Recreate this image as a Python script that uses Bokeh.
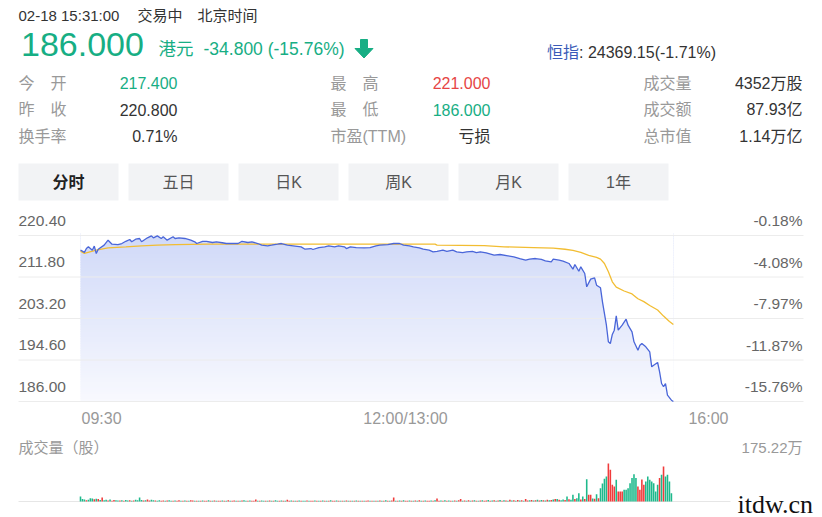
import numpy as np
from bokeh.plotting import figure
from bokeh.layouts import column
from bokeh.models import Range1d
from bokeh.core.properties import value
from bokeh.embed import file_html
from bokeh.resources import INLINE

# ---------------- data ----------------
# minutes after 09:30 (continuous trading minutes, lunch removed) and price
price_min = [0, 2, 3, 4, 6, 7, 8, 9, 12, 14,
             16, 19, 21, 23, 25, 26, 28, 30, 31, 34,
             36, 37, 39, 41, 42, 44, 47, 48, 50, 53,
             56, 58, 59, 62, 64, 67, 69, 72, 74, 77,
             80, 82, 85, 87, 90, 92, 95, 97, 100, 102,
             105, 108, 112, 114, 117, 118, 121, 124, 126, 129,
             131, 134, 135, 137, 140, 144, 147, 150, 152, 156,
             159, 162, 164, 167, 169, 172, 174, 177, 179, 181,
             184, 186, 189, 191, 194, 196, 199, 201, 203, 206,
             210, 213, 217, 220, 223, 226, 228, 231, 234, 236,
             239, 240, 243, 245, 248, 250, 251, 253, 254, 256,
             257, 259, 261, 262, 264, 265, 267, 268, 269, 270,
             271, 272, 273, 275, 277, 278, 280, 281, 283, 284,
             285, 287, 289, 290, 291, 293, 294, 295, 296, 297,
             298, 300, 301]
price_val = [217.40, 216.90, 217.70, 218.05, 217.35, 218.20, 216.67, 217.56, 218.40, 219.43,
             218.60, 218.50, 218.74, 219.20, 219.57, 219.10, 219.64, 219.78, 219.10, 219.92,
             220.33, 219.92, 220.33, 219.78, 220.13, 219.43, 220.13, 219.78, 219.92, 219.78,
             219.43, 219.10, 218.74, 219.20, 219.20, 218.95, 219.10, 218.90, 218.74, 218.74,
             218.74, 219.20, 218.95, 219.10, 218.74, 218.40, 218.27, 218.40, 218.60, 218.74,
             218.40, 218.27, 218.05, 217.56, 217.70, 217.50, 217.90, 218.05, 218.27, 218.05,
             218.27, 218.05, 217.70, 218.05, 217.90, 217.85, 217.90, 218.27, 218.40, 218.50,
             218.74, 218.74, 218.40, 218.27, 218.05, 217.85, 217.56, 217.35, 217.02, 217.10,
             217.35, 217.10, 217.35, 217.02, 216.87, 217.02, 217.10, 216.87, 217.02, 216.80,
             216.32, 216.46, 216.19, 215.99, 215.63, 215.28, 215.49, 215.63, 215.43, 215.16,
             214.95, 215.49, 215.28, 215.08, 214.60, 213.42, 214.39, 213.00, 213.91, 212.53,
             209.77, 211.35, 211.63, 210.10, 209.56, 206.66, 201.81, 198.37, 198.02, 199.89,
             200.78, 203.76, 200.78, 201.81, 203.06, 201.81, 200.44, 198.37, 196.63, 197.67,
             198.02, 197.33, 196.30, 193.19, 193.52, 194.08, 192.16, 189.73, 189.05, 189.73,
             187.31, 186.27, 186.00]

avg_min = [0, 2, 8, 14, 23, 31, 39, 48, 65, 180,
           181, 205, 215, 230, 240, 246, 250, 254, 258, 262,
           264, 266, 268, 270, 272, 276, 280, 283, 286, 289,
           293, 296, 299, 301]
avg_val = [217.15, 216.70, 217.35, 217.85, 218.05, 218.27, 218.40, 218.50, 218.60, 218.60,
           218.40, 218.30, 218.05, 217.90, 217.80, 217.55, 217.30, 216.90, 216.30, 215.85,
           215.50, 214.60, 212.90, 210.80, 209.70, 208.90, 208.30, 207.30, 206.70, 205.90,
           204.95, 203.70, 202.60, 201.96]

# volume per minute (万股)
vol_wan = [23, 12, 9, 6, 8, 15, 14, 10, 13, 12, 7, 19, 6, 8, 5, 9, 4, 7, 6, 5,
           5, 6, 4, 7, 5, 6, 4, 5, 8, 6, 18, 7, 5, 6, 9, 5, 8, 6, 5, 4,
           6, 4, 5, 3, 5, 6, 4, 3, 5, 4, 6, 3, 4, 5, 3, 4, 6, 5, 3, 4,
           4, 3, 5, 4, 3, 6, 4, 3, 5, 4, 3, 4, 5, 3, 4, 6, 3, 4, 5, 3,
           4, 3, 5, 6, 3, 4, 5, 3, 4, 9, 3, 4, 5, 3, 4, 3, 5, 4, 3, 6,
           3, 4, 5, 3, 4, 8, 3, 5, 4, 3, 4, 5, 3, 4, 3, 5, 4, 3, 4, 5,
           3, 4, 3, 5, 4, 3, 4, 6, 3, 4, 5, 3, 4, 3, 4, 5, 3, 4, 3, 4,
           5, 3, 4, 3, 4, 3, 5, 4, 3, 4, 3, 4, 5, 3, 4, 6, 4, 3, 5, 19,
           4, 3, 5, 4, 6, 3, 4, 5, 3, 4, 5, 4, 6, 3, 4, 5, 4, 3, 5, 4,
           6, 14, 4, 5, 3, 6, 4, 5, 4, 3, 5, 4, 6, 11, 4, 5, 3, 6, 4, 5,
           6, 4, 3, 5, 6, 4, 5, 7, 4, 5, 6, 4, 5, 7, 4, 6, 5, 4, 8, 5,
           6, 4, 7, 5, 6, 4, 12, 5, 6, 7, 5, 6, 8, 5, 7, 6, 5, 8, 6, 7,
           9, 11, 11, 8, 6, 9, 7, 23, 10, 8, 31, 12, 15, 38, 9, 23, 12, 103, 31, 31,
           14, 13, 34, 15, 61, 83, 105, 115, 175.22, 146, 77, 69, 100, 46, 46, 46, 54, 54, 61, 84,
           108, 126, 108, 69, 54, 101, 77, 92, 115, 100, 92, 84, 46, 77, 108, 123, 161, 115, 123, 92, 38]
# g = up (green), r = down (red)
vol_dir = ("gggrgggrgrgrggrgrrgg" "rgrggrgrggggrgrrggrg" "grrgrggrgrrgrgrgrrgr"
           "grgrrgrgrgrrgrgrgrrg" "rgrggrgrrrgrggrgrgrg" "grgrgrrgrgrgrggrgrrg"
           "rgrgrgrgrrgrgrgrgrgr" "grgrgrrgrgrgrgrgrgrr" "grgrgrrgrgrgrgrgrrgr"
           "grrgrgrgrgrgrrgrgrgr" "grgrgrrgrgrgrgrgrgrg" "rgrgrgrrgrgrgrgrgrgr"
           "grgrggrgrggrggrgrgrr" "grgrggggrrrrgrrrgggg" "gggrrrrgggggggrgrgggg")

price_ticks = [220.40, 211.80, 203.20, 194.60, 186.00]
pct_labels = ["-0.18%", "-4.08%", "-7.97%", "-11.87%", "-15.76%"]
time_labels = ["09:30", "12:00/13:00", "16:00"]
time_pos = [0, 165, 330]
session_minutes = 330
vol_max_label = "175.22万"
vol_max = 175.22

stat_labels = [["今　开", "昨　收", "换手率"], ["最　高", "最　低", "市盈(TTM)"], ["成交量", "成交额", "总市值"]]
stat_values = [["217.400", "220.800", "0.71%"], ["221.000", "186.000", "亏损"], ["4352万股", "87.93亿", "1.14万亿"]]
stat_kind = [["down", "flat", "flat"], ["up", "down", "flat"], ["flat", "flat", "flat"]]
tabs = ["分时", "五日", "日K", "周K", "月K", "1年"]

# ---------------- style / layout ----------------
W = 822
FONT = "'Liberation Sans', 'Noto Sans CJK SC', sans-serif"
GREEN = "#17ae84"
RED = "#e64545"
DARK = "#333333"
GRAY = "#999999"
AXIS_GRAY = "#666666"
BLUE_LINE = "#4a66d9"
YELLOW = "#f2bd32"
GRID = "#ececec"
VGREEN = "#1fb98c"
VRED = "#f03c3c"
KIND_COLOR = {"up": RED, "down": GREEN, "flat": DARK}


def mkfig(h, xr, yr):
    p = figure(width=W, height=h, x_range=xr, y_range=yr, output_backend="svg",
               toolbar_location=None, x_axis_location=None, y_axis_location=None,
               min_border=0)
    p.grid.visible = False
    p.outline_line_color = None
    p.background_fill_color = "white"
    p.border_fill_color = "white"
    return p


def txt(p, x, y, s, size="16px", color=DARK, align="left", baseline="middle",
        font=FONT, style="normal", x_off=0, y_off=0):
    p.text(x=[x], y=[y], text=[s], text_font=value(font), text_font_size=size,
           text_color=color, text_align=align, text_baseline=baseline,
           text_font_style=style, x_offset=x_off, y_offset=y_off)


# ---------- header ----------
hdr = mkfig(205, Range1d(0, W), Range1d(205, 0))
txt(hdr, 18, 15, "02-18 15:31:00", size="15px")
txt(hdr, 137, 15, "交易中", size="15px")
txt(hdr, 197, 15, "北京时间", size="15px")
txt(hdr, 20.5, 44, "186.000", size="34px", color=GREEN)
txt(hdr, 158, 48.5, "港元", size="17.5px", color=GREEN)
txt(hdr, 203, 48.5, "-34.800 (-15.76%)", size="17.5px", color=GREEN)
hdr.patch(x=[360, 367, 367, 372.5, 363.5, 354.5, 360],
          y=[39, 39, 48, 48, 57.5, 48, 48], fill_color=GREEN, line_color=GREEN)
txt(hdr, 546.5, 51.5, "恒指", size="16px", color="#3a5bb8")
txt(hdr, 578.5, 51.5, ": 24369.15(-1.71%)", size="16px", color=DARK)

row_y = [82.5, 109, 136]
lab_x = [18, 330, 643]
val_x = [177, 490, 802]
for c in range(3):
    for r in range(3):
        txt(hdr, lab_x[c], row_y[r], stat_labels[c][r], size="16px", color=GRAY)
        txt(hdr, val_x[c], row_y[r], stat_values[c][r], size="16px",
            color=KIND_COLOR[stat_kind[c][r]], align="right")

bl = [18 + 110 * i for i in range(len(tabs))]
hdr.quad(left=bl, right=[b + 100 for b in bl], top=163, bottom=200,
         fill_color="#f2f3f5", line_color=None)
for i, t in enumerate(tabs):
    txt(hdr, bl[i] + 50, 182, t, size="16px",
        color="#222222" if i == 0 else "#555555", align="center",
        style="bold" if i == 0 else "normal")

# ---------- price chart ----------
X0 = 80.0
PX_MIN = 650.0 / session_minutes


def px2m(px):
    return (px - X0) / PX_MIN


GRID_TOP_PX, GRID_BOT_PX = 235.0, 401.0
PX_PRICE = (GRID_BOT_PX - GRID_TOP_PX) / (price_ticks[0] - price_ticks[-1])


def py2p(py):
    return price_ticks[0] - (py - GRID_TOP_PX) / PX_PRICE


pf = mkfig(225, Range1d(px2m(0), px2m(W)), Range1d(py2p(430), py2p(205)))

pm = np.array(price_min, dtype=float)
pv = np.array(price_val, dtype=float)

# vertical gradient under the price line
lo_p, hi_p = price_ticks[-1], 220.6
nb = 70
edges = np.linspace(lo_p, hi_p, nb + 1)
top_c = np.array([208, 217, 248])
bot_c = np.array([248, 249, 254])
cols = []
for k in range(nb):
    t = ((edges[k] + edges[k + 1]) / 2 - lo_p) / (hi_p - lo_p)
    c = bot_c + t * (top_c - bot_c)
    cols.append("#%02x%02x%02x" % tuple(int(round(v)) for v in c))
step = edges[1] - edges[0]
pf.quad(left=pm[0], right=pm[-1], bottom=edges[:-1], top=edges[1:] + step * 0.6,
        fill_color=cols, line_color=None)
# clear everything above the price line
pf.varea(x=pm, y1=pv, y2=py2p(200), fill_color="white")

# grid lines
pf.segment(x0=px2m(18), x1=px2m(803), y0=price_ticks, y1=price_ticks,
           line_color=GRID, line_width=1)

pf.line(avg_min, avg_val, line_color=YELLOW, line_width=1.3)
pf.line(price_min, price_val, line_color=BLUE_LINE, line_width=1.3)

for v, pl in zip(price_ticks, pct_labels):
    txt(pf, px2m(18), v, "%.2f" % v, size="15.5px", color=AXIS_GRAY, y_off=-14.6)
    txt(pf, px2m(802), v, pl, size="15.5px", color=AXIS_GRAY, align="right", y_off=-14.6)

aligns = ["left", "center", "right"]
offs = [1, 0, -2]
for tp, tl, al, of in zip(time_pos, time_labels, aligns, offs):
    txt(pf, tp, py2p(417.5), tl, size="16px", color=GRAY, align=al, x_off=of)

# ---------- volume chart ----------
VB_PX = 501.0
PX_VOL = 38.0 / vol_max


def vy(py):
    return (VB_PX - py) / PX_VOL


vf = mkfig(87, pf.x_range, Range1d(vy(517), vy(430)))
vf.segment(x0=px2m(18), x1=px2m(803), y0=0, y1=0, line_color="#e6e6e6", line_width=1)
vm = list(range(len(vol_wan)))
vcol = [VGREEN if d == "g" else VRED for d in vol_dir[:len(vol_wan)]]
vf.vbar(x=vm[:len(vcol)], top=vol_wan[:len(vcol)], bottom=0, width=0.8,
        fill_color=vcol, line_color=None)
txt(vf, px2m(18), vy(447), "成交量（股）", size="15px", color=GRAY)
txt(vf, px2m(802), vy(447), vol_max_label, size="15px", color=GRAY, align="right")

# site watermark at the bottom right corner
vf.quad(left=px2m(730), right=px2m(830), bottom=vy(520), top=vy(494),
        fill_color="white", line_color=None)
txt(vf, px2m(737), vy(504), "itdw.cn", size="26px", color="#111111",
    font="'Liberation Serif', serif")

layout = column(hdr, pf, vf, spacing=0)
open("out.html", "w").write(file_html(layout, INLINE))
